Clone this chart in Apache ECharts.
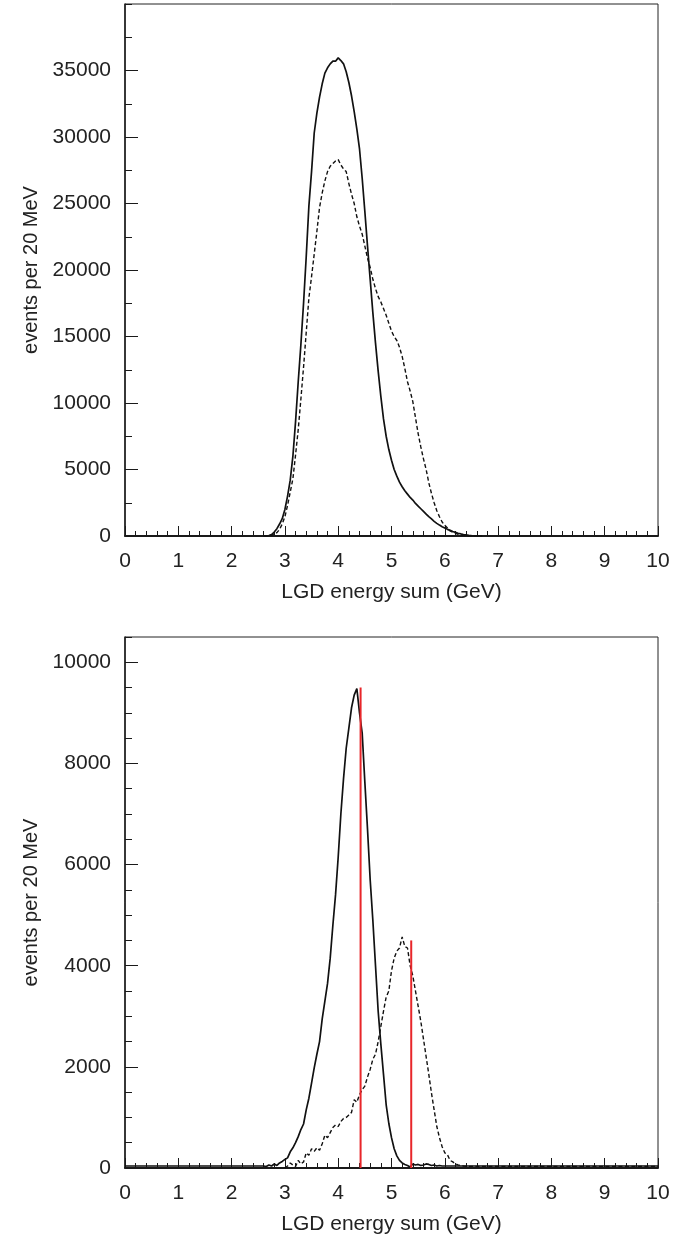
<!DOCTYPE html>
<html>
<head>
<meta charset="utf-8">
<script src="https://cdn.jsdelivr.net/npm/echarts@6/dist/echarts.min.js"></script>
<style>
html,body{margin:0;padding:0;background:#fff;}
#chart{width:683px;height:1241px;}
</style>
</head>
<body>
<div id="chart"></div>
<script>
// ---- data (bin width 0.05 GeV) ----
const binWidth = 0.05;
const xTickLabels = [0,1,2,3,4,5,6,7,8,9,10];
const topYLabels = [0,5000,10000,15000,20000,25000,30000,35000];
const bottomYLabels = [0,2000,4000,6000,8000,10000];

const topSolidStart = 2.60;
const topSolid = [0,10,40,110,300,550,900,1300,2000,3000,4200,6000,8600,11600,14400,17500,21000,24800,27400,30300,
  31800,33000,34000,34800,35200,35500,35700,35700,35950,35750,35500,34900,34100,33100,31900,30600,29100,26900,24400,21800,
  19300,16800,14500,12400,10500,8800,7500,6500,5700,5000,4500,4050,3700,3400,3150,2900,2700,2450,2250,2050,
  1850,1650,1450,1280,1100,950,820,700,600,500,420,340,270,210,160,115,80,50,30,15,8,3,0];

const topDashedStart = 2.60;
const topDashed = [0,0,20,60,130,250,500,900,1450,2300,3300,4300,6100,8000,10300,12700,15300,17900,19500,21200,
  22900,24700,25800,26700,27400,27800,28000,28200,28300,27900,27600,27400,26500,25700,25000,24000,23300,22700,21800,20900,
  20200,19300,18600,18000,17600,17100,16600,16000,15400,15000,14700,14200,13500,12600,11600,10900,10100,8900,7700,6700,
  5800,5000,4000,3200,2500,1900,1450,1050,800,600,380,270,200,130,80,50,30,15,8,3,0,0,0];

const bottomSolidStart = 2.60;
const bottomSolidFloor = 40;
const bottomSolid = [40,30,60,40,80,50,100,130,170,200,320,400,500,620,760,870,1150,1380,1680,1980,
  2250,2500,2950,3300,3650,4150,4800,5400,6150,7000,7700,8300,8700,9100,9350,9480,9000,8600,7630,6700,
  5700,4900,4000,3100,2450,1850,1250,880,600,380,240,150,100,70,50,20,80,60,70,50,
  60,80,70,50,60,40,50,40,40];

const bottomDashedStart = 3.00;
const bottomDashedFloor = 30;
const bottomDashed = [0,40,100,60,30,150,80,120,300,250,380,330,400,350,480,650,600,700,800,850,
  820,920,980,1000,1050,1100,1350,1300,1450,1550,1620,1800,1950,2150,2250,2500,2800,3100,3380,3500,
  3900,4150,4290,4350,4570,4380,4350,4000,3800,3500,3200,2900,2550,2200,1850,1480,1150,820,600,420,
  300,260,150,120,80,60,50,40,35,30,30];

const redLineX = [4.42, 5.37];
const redLineTop = [9500, 4500];

// ---- build ----
function pairs(start, vals){ return vals.map((v,i)=>[+(start + i*binWidth).toFixed(3), v]); }
function withFloor(arr, floor){ return [[0, floor]].concat(arr, [[10, floor]]); }

const FONT = '"Liberation Sans", Arial, Helvetica, sans-serif';
const TXT = '#222';
const AX = '#1a1a1a';
const FS = 21;

function xAxisFor(gi){
  return {
    gridIndex: gi, type: 'value', min: 0, max: 10, interval: 1,
    axisLine: {show: true, onZero: false, lineStyle: {color: AX, width: 2}},
    axisTick: {show: true, inside: true, length: 10, lineStyle: {color: AX, width: 1}},
    minorTick: {show: true, splitNumber: 5, length: 5, lineStyle: {color: AX, width: 1}},
    splitLine: {show: false}, minorSplitLine: {show: false},
    axisLabel: {fontSize: FS, color: TXT, fontFamily: FONT, margin: 15, showMinLabel: true, showMaxLabel: true,
      formatter: v => xTickLabels.indexOf(v) >= 0 ? String(v) : ''},
    name: 'LGD energy sum (GeV)', nameLocation: 'middle', nameGap: 46,
    nameTextStyle: {fontSize: FS, color: TXT, fontFamily: FONT}
  };
}
function yMajor(gi, max, labels){
  return {
    gridIndex: gi, type: 'value', position: 'left', min: 0, max: max, interval: labels[1]-labels[0],
    axisLine: {show: true, lineStyle: {color: AX, width: 1.5}},
    axisTick: {show: true, inside: true, length: 13, customValues: labels, lineStyle: {color: AX, width: 1}},
    splitLine: {show: false},
    axisLabel: {fontSize: FS, color: TXT, fontFamily: FONT, margin: 14, customValues: labels,
      formatter: v => String(v)},
    name: 'events per 20 MeV', nameLocation: 'middle', nameGap: 70, nameRotate: 90,
    nameTextStyle: {fontSize: FS - 1, color: TXT, fontFamily: FONT}
  };
}
function yMinor(gi, max, step){
  return {
    gridIndex: gi, type: 'value', position: 'left', offset: 0, min: 0, max: max, interval: step,
    axisLine: {show: false},
    axisTick: {show: true, inside: true, length: 7, lineStyle: {color: AX, width: 1}},
    splitLine: {show: false}, axisLabel: {show: false}
  };
}

const solidStyle = {color: '#111', width: 1.7};
const dashStyle = {color: '#111', width: 1.4, type: [4, 2.5]};

function hist(name, data, xi, yi, style){
  return {name, type: 'line', xAxisIndex: xi, yAxisIndex: yi, data,
    showSymbol: false, symbol: 'none', lineStyle: style, silent: true, animation: false, z: 3};
}

const series = [
  hist('top-solid', pairs(topSolidStart, topSolid), 0, 0, solidStyle),
  hist('top-dashed', pairs(topDashedStart, topDashed), 0, 0, dashStyle),
  hist('bottom-solid', withFloor(pairs(bottomSolidStart, bottomSolid), bottomSolidFloor), 1, 2, solidStyle),
  hist('bottom-dashed', withFloor(pairs(bottomDashedStart, bottomDashed), bottomDashedFloor).slice(1), 1, 2, dashStyle)
];
redLineX.forEach((x, i) => {
  series.push({type: 'line', xAxisIndex: 1, yAxisIndex: 2, data: [[x, 0], [x, redLineTop[i]]],
    showSymbol: false, symbol: 'none', lineStyle: {color: '#e8262a', width: 2}, silent: true, animation: false, z: 5});
});

const chart = echarts.init(document.getElementById('chart'), null, {renderer: 'canvas'});
chart.setOption({
  animation: false,
  backgroundColor: '#fff',
  grid: [
    {left: 125, right: 25, top: 4, height: 532, show: true, borderColor: '#222', borderWidth: 1, backgroundColor: 'transparent'},
    {left: 125, right: 25, top: 637, height: 531, show: true, borderColor: '#222', borderWidth: 1, backgroundColor: 'transparent'}
  ],
  xAxis: [xAxisFor(0), xAxisFor(1)],
  yAxis: [yMajor(0, 40000, topYLabels), yMinor(0, 40000, 2500), yMajor(1, 10500, bottomYLabels), yMinor(1, 10500, 500)],
  series
});
</script>
</body>
</html>
